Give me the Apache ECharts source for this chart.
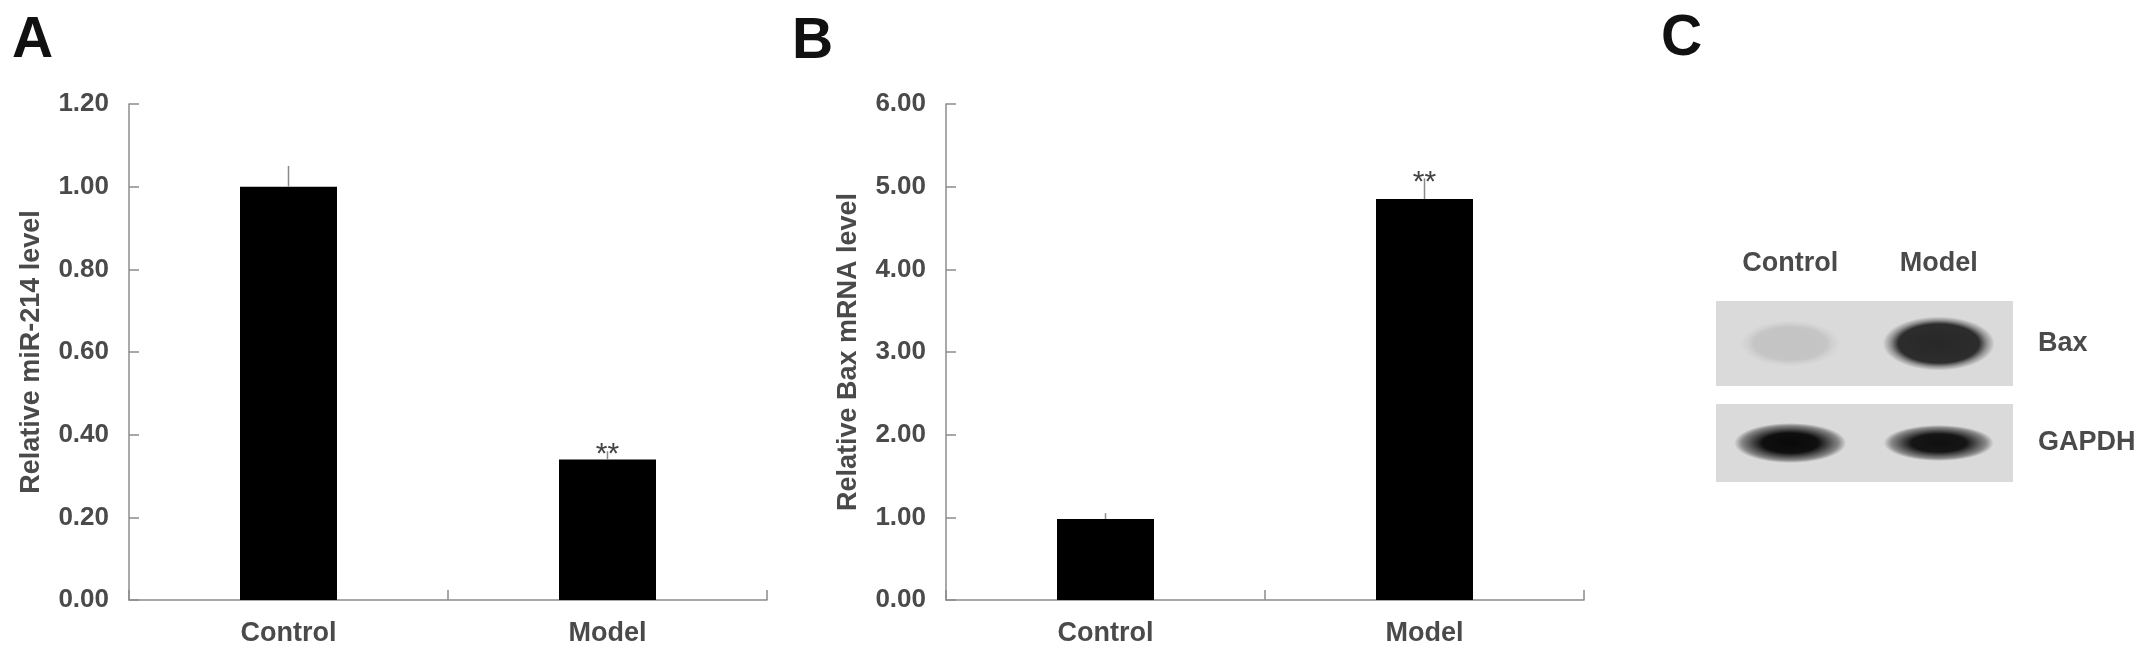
<!DOCTYPE html>
<html>
<head>
<meta charset="utf-8">
<script src="https://cdn.jsdelivr.net/npm/echarts@6/dist/echarts.min.js"></script>
<style>
html,body{margin:0;padding:0;background:#fff;}
#chart{width:2150px;height:658px;}
</style>
</head>
<body>
<div id="chart"></div>
<script>
// ---------- data ----------
const categories = ['Control', 'Model'];
const mirValues = [1.00, 0.34];
const mirErrors = [0.05, 0.02];
const baxMrnaValues = [0.98, 4.85];
const baxMrnaErrors = [0.07, 0.25];
const significance = ['', '**'];
const panelLetters = ['A', 'B', 'C'];
const blotLanes = ['Control', 'Model'];
const baxBandIntensity = [0.10, 0.82];
const gapdhBandIntensity = [0.96, 0.93];

// ---------- styles ----------
const FONT = "'Liberation Sans', Arial, sans-serif";
const TEXT_COLOR = '#4a4a4a';
const AXIS_COLOR = '#8c8c8c';

function fmt(v) { return v.toFixed(2); }

function xAxisDef(idx) {
  return {
    type: 'category', gridIndex: idx, data: categories,
    axisLine: { lineStyle: { color: AXIS_COLOR, width: 1.5 } },
    axisTick: { show: true, inside: true, length: 10, alignWithLabel: false, lineStyle: { color: AXIS_COLOR, width: 1.5 } },
    axisLabel: { color: TEXT_COLOR, fontSize: 27, fontWeight: 'bold', fontFamily: FONT, margin: 20 },
    splitLine: { show: false }
  };
}

function yAxisDef(idx, name, max, interval) {
  return {
    type: 'value', gridIndex: idx, min: 0, max: max, interval: interval,
    name: name, nameLocation: 'middle', nameGap: 84,
    nameTextStyle: { color: TEXT_COLOR, fontSize: 27, fontWeight: 'bold', fontFamily: FONT },
    axisLine: { show: true, lineStyle: { color: AXIS_COLOR, width: 1.5 } },
    axisTick: { show: true, inside: true, length: 10, lineStyle: { color: AXIS_COLOR, width: 1.5 } },
    axisLabel: { color: TEXT_COLOR, fontSize: 26, fontWeight: 'bold', fontFamily: FONT, margin: 20, formatter: fmt },
    splitLine: { show: false }
  };
}

function errorSeries(idx, values, errors) {
  return {
    type: 'custom', xAxisIndex: idx, yAxisIndex: idx, z: 5,
    data: values.map((v, i) => [i, v, errors[i]]),
    renderItem: function (params, api) {
      const i = api.value(0), v = api.value(1), e = api.value(2);
      const base = api.coord([i, v]);
      const top = api.coord([i, v + e]);
      const children = [{
        type: 'line',
        shape: { x1: base[0], y1: base[1], x2: top[0], y2: top[1] },
        style: { stroke: '#8a8a8a', lineWidth: 1.5 }
      }];
      if (significance[i]) {
        children.push({
          type: 'text',
          style: {
            text: significance[i], x: top[0], y: top[1] + 4,
            align: 'center', verticalAlign: 'middle',
            fill: '#444', fontSize: 30, fontFamily: FONT
          }
        });
      }
      return { type: 'group', children: children };
    }
  };
}

function bandSeries(idx, intensities, size, solidStop) {
  return {
    type: 'scatter', xAxisIndex: idx, yAxisIndex: idx,
    data: intensities.map((v, i) => [blotLanes[i], 0, v]),
    symbol: 'circle',
    symbolSize: function (val, p) { return size[p.dataIndex]; },
    itemStyle: {
      color: function (p) {
        const a = p.value[2];
        return new echarts.graphic.RadialGradient(0.5, 0.5, 0.5, [
          { offset: 0, color: 'rgba(0,0,0,' + a + ')' },
          { offset: solidStop, color: 'rgba(0,0,0,' + (a * 0.97) + ')' },
          { offset: 0.86, color: 'rgba(0,0,0,' + (a * 0.4) + ')' },
          { offset: 1, color: 'rgba(0,0,0,0)' }
        ]);
      },
      opacity: 1
    },
    emphasis: { disabled: true },
    silent: true
  };
}

const letterStyle = { fontSize: 57, fontWeight: 'bold', fontFamily: FONT, fill: '#111', verticalAlign: 'middle', align: 'left' };

const option = {
  backgroundColor: '#ffffff',
  animation: false,
  textStyle: { fontFamily: FONT },
  graphic: [
    { type: 'text', x: 12, y: 41, style: Object.assign({ text: panelLetters[0] }, letterStyle) },
    { type: 'text', x: 792, y: 42, style: Object.assign({ text: panelLetters[1] }, letterStyle) },
    { type: 'text', x: 1661, y: 39, style: Object.assign({ text: panelLetters[2] }, letterStyle) }
  ],
  grid: [
    { left: 129, top: 104, width: 638, height: 496 },
    { left: 946, top: 104, width: 638, height: 496 },
    { left: 1716, top: 301, width: 297, height: 85, show: true, backgroundColor: '#dadada', borderWidth: 0 },
    { left: 1716, top: 404, width: 297, height: 78, show: true, backgroundColor: '#dadada', borderWidth: 0 }
  ],
  xAxis: [
    xAxisDef(0),
    xAxisDef(1),
    {
      type: 'category', gridIndex: 2, data: blotLanes, position: 'top',
      axisLine: { show: false }, axisTick: { show: false },
      axisLabel: { color: TEXT_COLOR, fontSize: 27, fontWeight: 'bold', fontFamily: FONT, margin: 24 }
    },
    {
      type: 'category', gridIndex: 3, data: blotLanes,
      axisLine: { show: false }, axisTick: { show: false }, axisLabel: { show: false }
    }
  ],
  yAxis: [
    yAxisDef(0, 'Relative miR-214 level', 1.2, 0.2),
    yAxisDef(1, 'Relative Bax mRNA level', 6, 1),
    {
      type: 'category', gridIndex: 2, data: ['Bax'], position: 'right',
      axisLine: { show: false }, axisTick: { show: false },
      axisLabel: { color: TEXT_COLOR, fontSize: 27, fontWeight: 'bold', fontFamily: FONT, margin: 25 }
    },
    {
      type: 'category', gridIndex: 3, data: ['GAPDH'], position: 'right',
      axisLine: { show: false }, axisTick: { show: false },
      axisLabel: { color: TEXT_COLOR, fontSize: 27, fontWeight: 'bold', fontFamily: FONT, margin: 25, padding: [0, 0, 16, 0] }
    }
  ],
  series: [
    { type: 'bar', xAxisIndex: 0, yAxisIndex: 0, data: mirValues, barWidth: 97, itemStyle: { color: '#000' }, silent: true },
    errorSeries(0, mirValues, mirErrors),
    { type: 'bar', xAxisIndex: 1, yAxisIndex: 1, data: baxMrnaValues, barWidth: 97, itemStyle: { color: '#000' }, silent: true },
    errorSeries(1, baxMrnaValues, baxMrnaErrors),
    bandSeries(2, baxBandIntensity, [[100, 46], [112, 54]], 0.72),
    bandSeries(3, gapdhBandIntensity, [[112, 40], [110, 36]], 0.5)
  ]
};

const chart = echarts.init(document.getElementById('chart'), null, { renderer: 'canvas', width: 2150, height: 658 });
chart.setOption(option);
</script>
</body>
</html>
